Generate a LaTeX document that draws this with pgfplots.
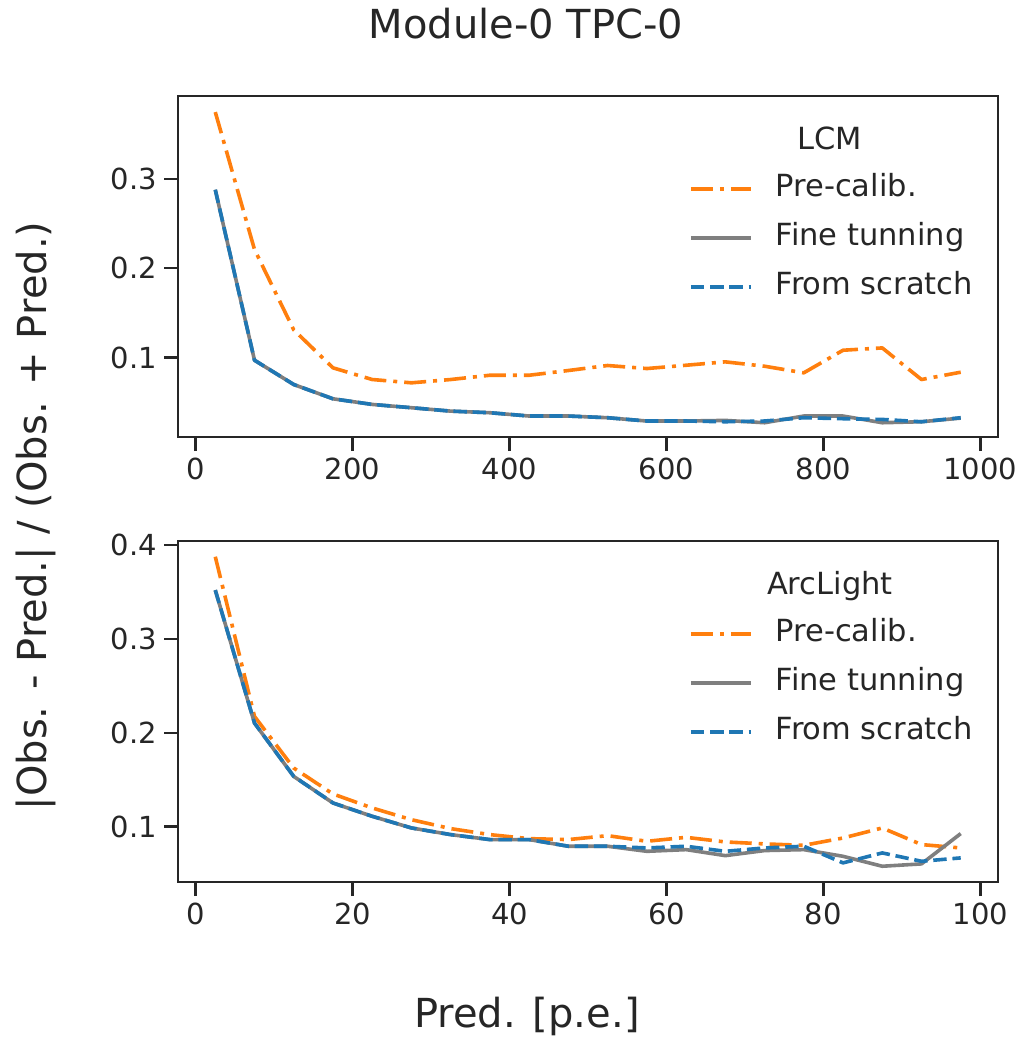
\documentclass[border=0pt]{standalone}
\usepackage{fontspec}
\setmainfont{DejaVu Sans}
\usepackage{pgfplots}
\usepackage{pgfplotstable}
\pgfplotsset{compat=1.18}
\definecolor{txt}{HTML}{262626}
\definecolor{c1}{HTML}{FF7F0E}
\definecolor{c2}{HTML}{7F7F7F}
\definecolor{c3}{HTML}{1F77B4}

\pgfplotstableread{
x pre fine scratch
25 0.375 0.288 0.288
75 0.221 0.097 0.097
125 0.131 0.0698 0.0698
175 0.0885 0.0538 0.0538
225 0.0754 0.0475 0.0475
275 0.0717 0.0438 0.0438
325 0.0754 0.0400 0.0400
375 0.0802 0.0382 0.0382
425 0.0802 0.0345 0.0345
475 0.0855 0.0345 0.0345
525 0.0911 0.0326 0.0326
575 0.0877 0.0289 0.0289
625 0.0914 0.0289 0.0289
675 0.0952 0.0296 0.0281
725 0.0903 0.0270 0.0289
775 0.0829 0.0345 0.0326
825 0.1082 0.0345 0.0315
875 0.1108 0.0270 0.0307
925 0.0754 0.0281 0.0281
975 0.0836 0.0322 0.0326
}\lcm

\pgfplotstableread{
x pre fine scratch
2.5 0.3876 0.352 0.352
7.5 0.2174 0.2103 0.2103
12.5 0.1624 0.1535 0.1535
17.5 0.1348 0.1252 0.1252
22.5 0.1199 0.1110 0.1110
27.5 0.1074 0.0986 0.0986
32.5 0.0979 0.0915 0.0915
37.5 0.0915 0.0862 0.0862
42.5 0.0872 0.0862 0.0862
47.5 0.0862 0.0791 0.0791
52.5 0.0904 0.0791 0.0791
57.5 0.0844 0.0737 0.0773
62.5 0.0886 0.0755 0.0791
67.5 0.0837 0.0691 0.0737
72.5 0.0816 0.0745 0.0773
77.5 0.0801 0.0755 0.0791
82.5 0.0879 0.0684 0.0614
87.5 0.0986 0.0578 0.0720
92.5 0.0809 0.0603 0.0631
97.5 0.0773 0.0926 0.0667
}\arc

\tikzset{
 pre/.style={c1, line width=1.8pt, line join=round, dash pattern=on 11pt off 3.5pt on 2pt off 3.5pt},
 fine/.style={c2, line width=1.8pt, line join=round},
 scr/.style={c3, line width=1.8pt, line join=round, dash pattern=on 6.7pt off 2.9pt},
 ltitle/.style={anchor=base, font=\fontsize{15.25}{18}\selectfont, text=txt, inner sep=0pt},
}

\pgfplotsset{
 myax/.style={
  scale only axis, width=410pt, height=170.5pt,
  axis line style={txt, line width=1.25pt},
  tick align=outside, xtick pos=bottom, ytick pos=left,
  major tick length=7pt,
  every tick/.style={txt, line width=1.2pt},
  tick label style={font=\fontsize{14.5}{17}\selectfont, text=txt},
  /pgf/number format/assume math mode=true,
  /pgf/number format/1000 sep={},
  legend style={draw=none, fill=none, font=\fontsize{15.25}{18}\selectfont, text=txt,
    anchor=north west, at={(rel axis cs:0.6155,0.782)}, row sep=10pt,
    nodes={inner sep=0pt, text height=11pt, text depth=3.5pt},
    /tikz/every odd column/.style={column sep=11.5pt}},
  legend cell align=left,
  legend image code/.code={\draw[##1] (0pt,0pt) -- (30pt,0pt);},
 },
}

\begin{document}
\begin{tikzpicture}
\useasboundingbox (0pt,0pt) rectangle (511.5pt,-520pt);
\begin{axis}[myax, at={(89pt,-48pt)}, anchor=north west,
  xmin=-22.5, xmax=1022.5, ymin=0.011, ymax=0.393,
  xtick={0,200,400,600,800,1000}, ytick={0.1,0.2,0.3}]
\addplot[pre] table[x=x,y=pre] {\lcm};
\addlegendentry{Pre-calib.}
\addplot[fine] table[x=x,y=fine] {\lcm};
\addlegendentry{Fine tunning}
\addplot[scr] table[x=x,y=scratch] {\lcm};
\addlegendentry{From scratch}
\node[ltitle] at (rel axis cs:0.795,0.843) {LCM};
\end{axis}
\begin{axis}[myax, at={(89pt,-270.5pt)}, anchor=north west,
  xmin=-2.25, xmax=102.25, ymin=0.041, ymax=0.4043,
  xtick={0,20,40,60,80,100}, ytick={0.1,0.2,0.3,0.4}]
\addplot[pre] table[x=x,y=pre] {\arc};
\addlegendentry{Pre-calib.}
\addplot[fine] table[x=x,y=fine] {\arc};
\addlegendentry{Fine tunning}
\addplot[scr] table[x=x,y=scratch] {\arc};
\addlegendentry{From scratch}
\node[ltitle] at (rel axis cs:0.795,0.843) {ArcLight};
\end{axis}
\node[anchor=base, font=\fontsize{20}{24}\selectfont, text=txt] at (263pt,-19pt) {Module-0 TPC-0};
\node[anchor=base, font=\fontsize{20}{24}\selectfont, text=txt] at (263.5pt,-513.5pt) {Pred. [p.e.]};
\node[rotate=90, font=\fontsize{20}{24}\selectfont, text=txt] at (18pt,-258pt) {|Obs. - Pred.| / (Obs. + Pred.)};
\end{tikzpicture}
\end{document}
